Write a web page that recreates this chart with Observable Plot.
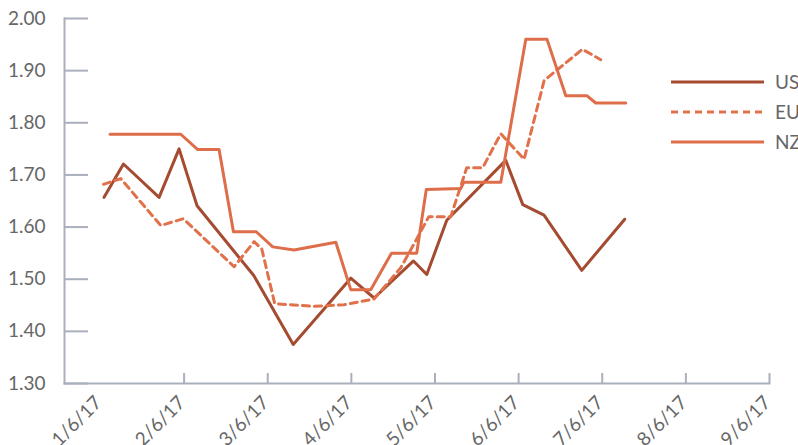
<!DOCTYPE html>
<html>
<head>
<meta charset="utf-8">
<script src="https://cdn.jsdelivr.net/npm/d3@7"></script>
<script src="https://cdn.jsdelivr.net/npm/@observablehq/plot@0.6"></script>
<style>
html, body { margin: 0; padding: 0; background: #fff; overflow: hidden; }
#wrap { position: relative; width: 798px; height: 445px; overflow: hidden; }
#legend { position: absolute; left: 0; top: 0; pointer-events: none; }
</style>
</head>
<body>
<div id="wrap"></div>
<script>
// Tick labels and positions (month index)
const tickPos = [1, 2, 3, 4, 5, 6, 7, 8, 9];
const tickLabels = ["1/6/17", "2/6/17", "3/6/17", "4/6/17", "5/6/17", "6/6/17", "7/6/17", "8/6/17", "9/6/17"];
const yTicks = [1.3, 1.4, 1.5, 1.6, 1.7, 1.8, 1.9, 2.0];

const seriesNames = ["US", "EU", "NZ"];

// US series
const usT = [1.043, 1.275, 1.701, 1.940, 2.155, 2.833, 3.305, 3.993, 4.272, 4.743, 4.902, 5.141, 5.846, 6.050, 6.304, 6.755, 7.269];
const usV = [1.657, 1.721, 1.657, 1.750, 1.641, 1.507, 1.375, 1.502, 1.464, 1.535, 1.509, 1.613, 1.728, 1.643, 1.623, 1.517, 1.615];

// EU series
const euT = [1.036, 1.243, 1.721, 1.990, 2.598, 2.837, 2.929, 3.084, 3.554, 3.913, 4.272, 4.591, 4.750, 4.926, 5.189, 5.380, 5.571, 5.787, 6.066, 6.305, 6.763, 6.982];
const euV = [1.682, 1.693, 1.603, 1.616, 1.524, 1.572, 1.558, 1.453, 1.448, 1.451, 1.462, 1.522, 1.568, 1.620, 1.620, 1.714, 1.714, 1.779, 1.730, 1.881, 1.941, 1.921];

// NZ series
const nzT = [1.115, 1.960, 2.160, 2.418, 2.590, 2.863, 3.060, 3.315, 3.814, 3.993, 4.232, 4.480, 4.782, 4.896, 5.308, 5.344, 5.787, 6.086, 6.340, 6.564, 6.815, 6.922, 7.281];
const nzV = [1.778, 1.778, 1.749, 1.749, 1.591, 1.591, 1.562, 1.556, 1.571, 1.480, 1.480, 1.550, 1.550, 1.672, 1.674, 1.686, 1.686, 1.960, 1.960, 1.852, 1.852, 1.838, 1.838];

const colors = { US: "#a44b30", EU: "#e0714b", NZ: "#de6e49" };
const dashes = { US: null, EU: "7,5", NZ: null };

const toRows = (T, V, s) => T.map((t, i) => ({ t, v: V[i], s }));
const us = toRows(usT, usV, "US");
const eu = toRows(euT, euV, "EU");
const nz = toRows(nzT, nzV, "NZ");

const axisColor = "#a9afbb";
const textColor = "#666666";

const chart = Plot.plot({
  width: 798,
  height: 445,
  marginLeft: 64,
  marginRight: 29,
  marginTop: 18,
  marginBottom: 62,
  style: { fontFamily: "Lato, 'Open Sans', sans-serif", fontSize: "19px", color: textColor, background: "#fff", overflow: "visible" },
  x: { domain: [0.57, 9] },
  y: { domain: [1.3, 2.0] },
  marks: [
    Plot.axisY(yTicks, { tickSize: -24, fill: "none", stroke: axisColor, strokeWidth: 2, label: null }),
    Plot.axisY(yTicks, { tickSize: 0, tickPadding: 19, stroke: "none", fill: textColor, tickFormat: d3.format(".2f"), label: null }),
    Plot.axisX(tickPos.slice(1), { tickSize: -10, fill: "none", stroke: axisColor, strokeWidth: 2, label: null }),
    Plot.axisX(tickPos, { tickSize: 0, tickPadding: 16, dx: -2, tickRotate: -45, stroke: "none", fill: textColor, tickFormat: d => tickLabels[tickPos.indexOf(d)], label: null }),
    Plot.frame({ anchor: "left", stroke: axisColor, strokeWidth: 2 }),
    Plot.frame({ anchor: "bottom", stroke: axisColor, strokeWidth: 2 }),
    Plot.line(us, { x: "t", y: "v", stroke: colors.US, strokeWidth: 3, strokeLinejoin: "round" }),
    Plot.line(eu, { x: "t", y: "v", stroke: colors.EU, strokeWidth: 3, strokeDasharray: dashes.EU, strokeLinejoin: "round" }),
    Plot.line(nz, { x: "t", y: "v", stroke: colors.NZ, strokeWidth: 3, strokeLinejoin: "round" })
  ]
});

const wrap = document.getElementById("wrap");
wrap.appendChild(chart);

// Legend overlay
const leg = d3.select(wrap).append("svg")
  .attr("id", "legend")
  .attr("width", 798)
  .attr("height", 445);
seriesNames.forEach((name, i) => {
  const y = 82 + i * 30;
  leg.append("line")
    .attr("x1", 671).attr("x2", 764)
    .attr("y1", y).attr("y2", y)
    .attr("stroke", colors[name])
    .attr("stroke-width", 3)
    .attr("stroke-dasharray", dashes[name]);
  leg.append("text")
    .attr("x", 775).attr("y", y)
    .attr("dy", "0.36em")
    .attr("font-family", "Lato, 'Open Sans', sans-serif")
    .attr("font-size", 19)
    .attr("fill", textColor)
    .text(name);
});
</script>
</body>
</html>
